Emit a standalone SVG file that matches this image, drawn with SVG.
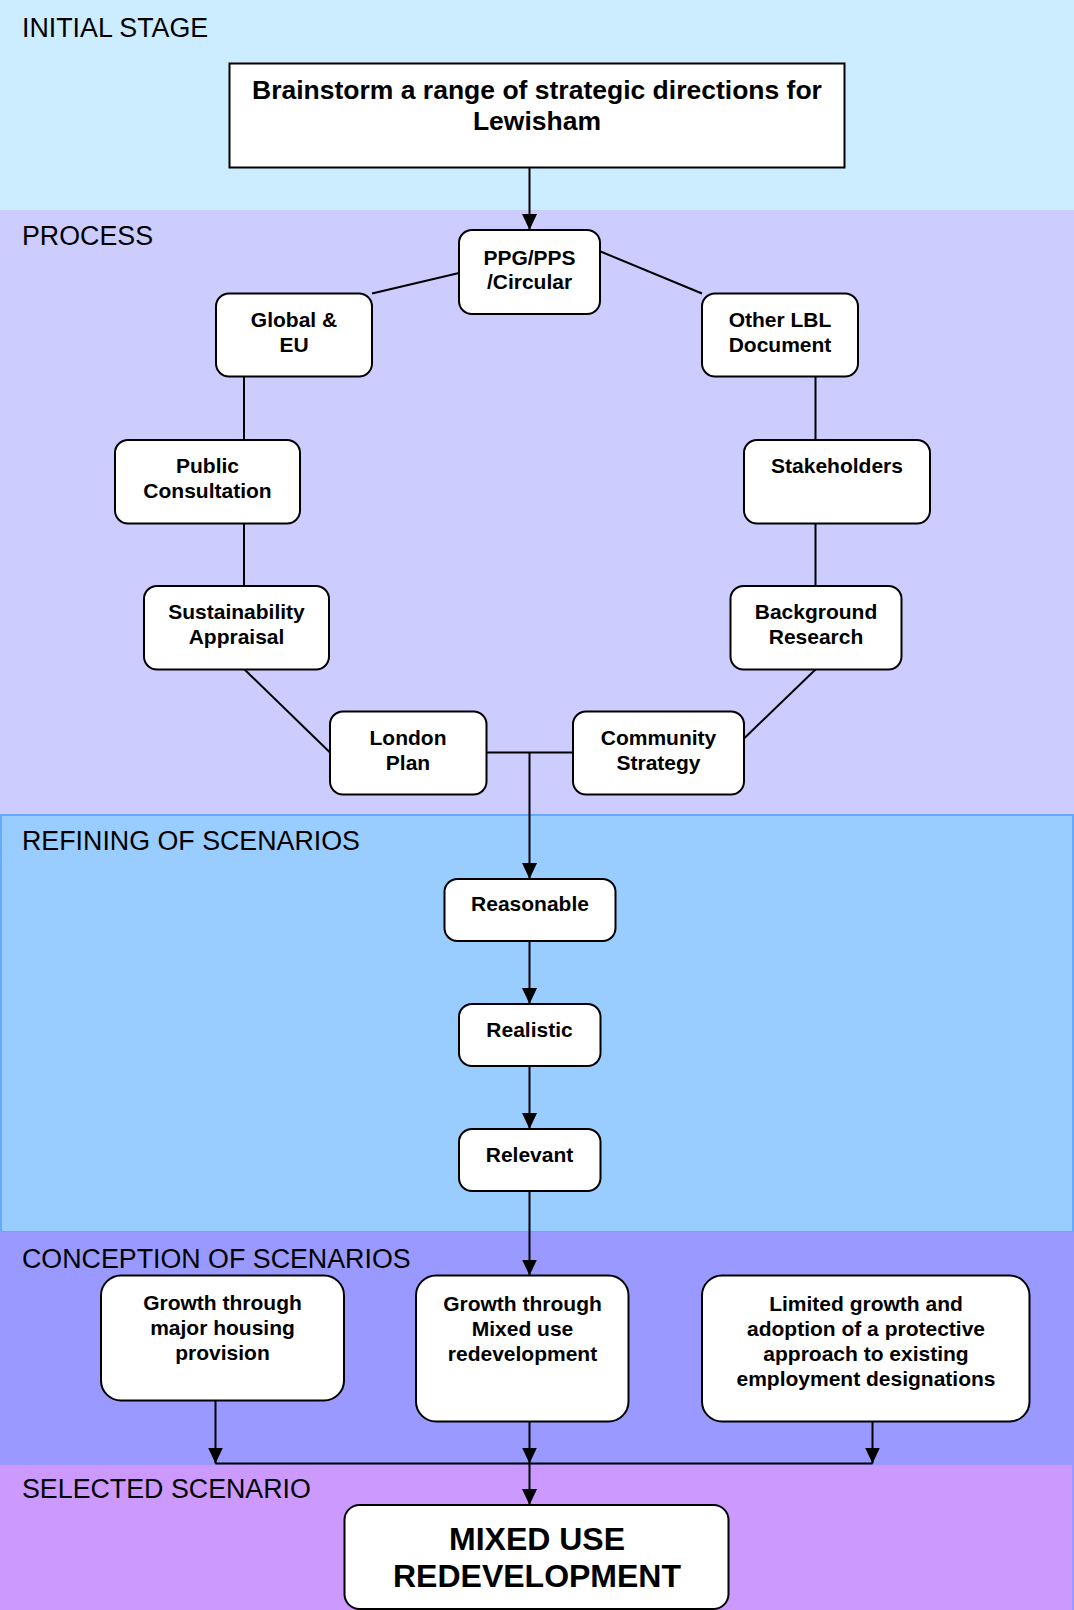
<svg xmlns="http://www.w3.org/2000/svg" width="1074" height="1610" viewBox="0 0 1074 1610">
<style>
.band{font-family:"Liberation Sans",Arial,sans-serif;font-size:26.8px;fill:#000}
.node rect{fill:#fff;stroke:#000;stroke-width:2}
.node text{font-family:"Liberation Sans",Arial,sans-serif;font-weight:bold;font-size:21px;fill:#000;text-anchor:middle}
.conn line,.conn path{stroke:#000;stroke-width:2;fill:none}
</style>
<defs>
<marker id="arr" markerUnits="userSpaceOnUse" markerWidth="18" markerHeight="16" refX="16" refY="7.5" orient="auto">
<path d="M0,0 L16,7.5 L0,15 z" fill="#000"/>
</marker>
</defs>
<g id="bands">
<rect x="0" y="0" width="1074" height="210" fill="#CCECFF"/>
<rect x="0" y="210" width="1074" height="605" fill="#CCCCFF"/>
<rect x="1" y="815" width="1072" height="417" fill="#99CCFF" stroke="#66AAFF" stroke-width="2"/>
<rect x="0" y="1232" width="1074" height="378" fill="#9999FF"/>
<rect x="0" y="1465" width="1072" height="145" fill="#CC99FF"/>
<text class="band" x="22" y="37">INITIAL STAGE</text>
<text class="band" x="22" y="245">PROCESS</text>
<text class="band" x="22" y="850">REFINING OF SCENARIOS</text>
<text class="band" x="22" y="1268">CONCEPTION OF SCENARIOS</text>
<text class="band" x="22" y="1498">SELECTED SCENARIO</text>
</g>
<g id="connectors" class="conn">
<line x1="529.5" y1="167.5" x2="529.5" y2="230" marker-end="url(#arr)"/>
<line x1="459" y1="273" x2="372" y2="293.5"/>
<line x1="600.5" y1="251.5" x2="702" y2="293.5"/>
<line x1="244" y1="376.5" x2="244" y2="440"/>
<line x1="244" y1="523.5" x2="244" y2="586"/>
<line x1="815.5" y1="376.5" x2="815.5" y2="440"/>
<line x1="815.5" y1="523.5" x2="815.5" y2="586"/>
<line x1="244.5" y1="669.5" x2="330" y2="752.5"/>
<line x1="815.5" y1="669.5" x2="744" y2="738.5"/>
<line x1="486.5" y1="752.5" x2="573" y2="752.5"/>
<line x1="529.5" y1="752.5" x2="529.5" y2="879" marker-end="url(#arr)"/>
<line x1="529.5" y1="941" x2="529.5" y2="1004" marker-end="url(#arr)"/>
<line x1="529.5" y1="1066" x2="529.5" y2="1129" marker-end="url(#arr)"/>
<line x1="529.5" y1="1191" x2="529.5" y2="1275.5" marker-end="url(#arr)"/>
<line x1="215.5" y1="1400.5" x2="215.5" y2="1463.5" marker-end="url(#arr)"/>
<line x1="529.5" y1="1421.5" x2="529.5" y2="1463.5" marker-end="url(#arr)"/>
<line x1="872.5" y1="1421.5" x2="872.5" y2="1463.5" marker-end="url(#arr)"/>
<line x1="215.5" y1="1463.5" x2="872.5" y2="1463.5"/>
<line x1="529.5" y1="1463.5" x2="529.5" y2="1505" marker-end="url(#arr)"/>
</g>
<g id="brainstorm" class="node">
<rect x="229.5" y="63.5" width="615" height="104" rx="0"/>
<text x="537" y="99" style="font-size:26.5px">Brainstorm a range of strategic directions for</text>
<text x="537" y="130" style="font-size:26.5px">Lewisham</text>
</g>
<g id="ppg" class="node">
<rect x="459" y="230" width="141" height="84" rx="13"/>
<text x="529.5" y="264.5">PPG/PPS</text>
<text x="529.5" y="289">/Circular</text>
</g>
<g id="global" class="node">
<rect x="216" y="293.5" width="156" height="83" rx="13"/>
<text x="294" y="327">Global &amp;</text>
<text x="294" y="352">EU</text>
</g>
<g id="otherlbl" class="node">
<rect x="702" y="293.5" width="156" height="83" rx="13"/>
<text x="780" y="327">Other LBL</text>
<text x="780" y="352">Document</text>
</g>
<g id="public" class="node">
<rect x="115" y="440" width="185" height="83.5" rx="13"/>
<text x="207.5" y="473">Public</text>
<text x="207.5" y="498">Consultation</text>
</g>
<g id="stakeholders" class="node">
<rect x="744" y="440" width="186" height="83.5" rx="13"/>
<text x="837" y="473">Stakeholders</text>
</g>
<g id="sustainability" class="node">
<rect x="144" y="586" width="185" height="83.5" rx="13"/>
<text x="236.5" y="618.5">Sustainability</text>
<text x="236.5" y="643.5">Appraisal</text>
</g>
<g id="background" class="node">
<rect x="730.5" y="586" width="171" height="83.5" rx="13"/>
<text x="816" y="618.5">Background</text>
<text x="816" y="643.5">Research</text>
</g>
<g id="london" class="node">
<rect x="330" y="711.5" width="156.5" height="83" rx="13"/>
<text x="408" y="745">London</text>
<text x="408" y="770">Plan</text>
</g>
<g id="community" class="node">
<rect x="573" y="711.5" width="171" height="83" rx="13"/>
<text x="658.5" y="745">Community</text>
<text x="658.5" y="770">Strategy</text>
</g>
<g id="reasonable" class="node">
<rect x="444.5" y="879" width="171" height="62" rx="13"/>
<text x="530" y="911">Reasonable</text>
</g>
<g id="realistic" class="node">
<rect x="459" y="1004" width="141.5" height="62" rx="13"/>
<text x="529.5" y="1037">Realistic</text>
</g>
<g id="relevant" class="node">
<rect x="459" y="1129" width="141.5" height="62" rx="13"/>
<text x="529.5" y="1162">Relevant</text>
</g>
<g id="housing" class="node">
<rect x="101" y="1275.5" width="243" height="125" rx="20"/>
<text x="222.5" y="1310">Growth through</text>
<text x="222.5" y="1335">major housing</text>
<text x="222.5" y="1360">provision</text>
</g>
<g id="mixed" class="node">
<rect x="416" y="1275.5" width="212.5" height="146" rx="20"/>
<text x="522.5" y="1311">Growth through</text>
<text x="522.5" y="1336">Mixed use</text>
<text x="522.5" y="1361">redevelopment</text>
</g>
<g id="limited" class="node">
<rect x="702" y="1275.5" width="327.5" height="146" rx="20"/>
<text x="866" y="1311">Limited growth and</text>
<text x="866" y="1336">adoption of a protective</text>
<text x="866" y="1361">approach to existing</text>
<text x="866" y="1385.5">employment designations</text>
</g>
<g id="selected" class="node">
<rect x="344.5" y="1505" width="384" height="104" rx="15"/>
<text x="537" y="1549.5" style="font-size:32px">MIXED USE</text>
<text x="537" y="1587" style="font-size:32px">REDEVELOPMENT</text>
</g>
</svg>
